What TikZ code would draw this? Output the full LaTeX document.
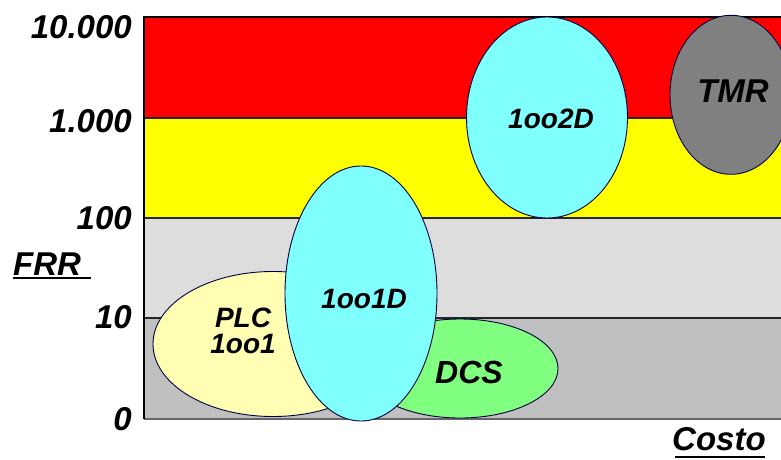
\documentclass[tikz,border=0pt]{standalone}
\usepackage{fontspec}
\setmainfont{Liberation Sans}
\usetikzlibrary{shapes.geometric}
\definecolor{bandred}{HTML}{FF0000}
\definecolor{bandyellow}{HTML}{FFFF00}
\definecolor{bandlight}{HTML}{DDDDDD}
\definecolor{banddark}{HTML}{C0C0C0}
\definecolor{plcfill}{HTML}{FFFFB3}
\definecolor{dcsfill}{HTML}{80FF80}
\definecolor{cyanfill}{HTML}{80FFFF}
\definecolor{tmrfill}{HTML}{808080}
\definecolor{edgenavy}{HTML}{000040}
\begin{document}
\begin{tikzpicture}[x=1pt,y=-1pt,
  divider/.style={draw=black!85, line width=1.1pt},
  blob/.style={ellipse, draw=edgenavy, line width=0.9pt, inner sep=0pt},
  lbl/.style={font=\fontsize{28}{26}\selectfont\bfseries\itshape, anchor=base, align=center, inner sep=0pt},
  ticklbl/.style={font=\fontsize{33}{33}\selectfont\bfseries\itshape, anchor=base east, inner sep=0pt},
  axislbl/.style={font=\fontsize{33}{33}\selectfont\bfseries\itshape, anchor=base west, inner sep=0pt},
  uline/.style={line width=2pt}]
\useasboundingbox (0,0) rectangle (781,460);

% risk bands
\fill[bandred]    (144,17)  rectangle (781,118);
\fill[bandyellow] (144,118) rectangle (781,218);
\fill[bandlight]  (144,218) rectangle (781,318);
\fill[banddark]   (144,318) rectangle (781,419);
\draw[divider] (144,118) -- (781,118);
\draw[divider] (144,218) -- (781,218);
\draw[divider] (144,318) -- (781,318);
\draw[divider, draw=black!60] (144,419) -- (781,419);
\draw[line width=1.4pt] (781,17) -- (144,17) -- (144,419);

% vertical axis values
\node[ticklbl] (t4) at (132,38)  {10.000};
\node[ticklbl] (t3) at (132,132) {1.000};
\node[ticklbl] (t2) at (132,229) {100};
\node[ticklbl] (t1) at (132,328) {10};
\node[ticklbl] (t0) at (132,430) {0};

% axis titles
\node[axislbl] (frr) at (13,275) {FRR};
\draw[uline] (13,278) -- (91,278);
\node[axislbl] (costo) at (672,450) {Costo};
\draw[uline] (675,457) -- (765,457);

% architectures
\node[blob, fill=plcfill, minimum width=240pt, minimum height=145pt] (plc) at (273,344) {};
\node[blob, fill=dcsfill, minimum width=196pt, minimum height=99pt] (dcs) at (460,368.5) {};
\node[blob, fill=cyanfill, minimum width=152pt, minimum height=255pt] (d1) at (361,293.5) {};
\node[blob, fill=cyanfill, minimum width=161pt, minimum height=201pt] (d2) at (547,117.5) {};
\node[blob, fill=tmrfill, minimum width=122pt, minimum height=159pt] (tmr) at (731,94.8) {};

\node[lbl] (plct) at (243,353) {PLC\\1oo1};
\node[lbl, font=\fontsize{32}{32}\selectfont\bfseries\itshape] (dcst) at (469,383) {DCS};
\node[lbl] (d1t) at (364,308) {1oo1D};
\node[lbl] (d2t) at (551,128) {1oo2D};
\node[lbl, font=\fontsize{33}{33}\selectfont\bfseries\itshape] (tmrt) at (733,102) {TMR};
\end{tikzpicture}
\end{document}
